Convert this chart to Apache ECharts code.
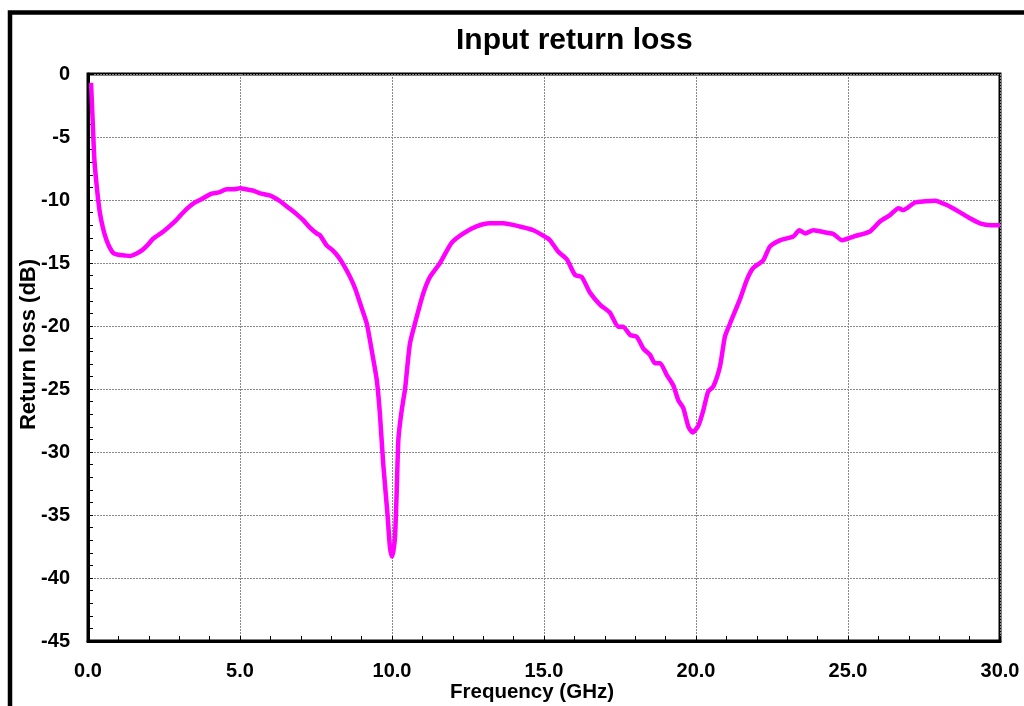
<!DOCTYPE html>
<html>
<head>
<meta charset="utf-8">
<script src="https://cdn.jsdelivr.net/npm/echarts@6/dist/echarts.min.js"></script>
<style>
html,body{margin:0;padding:0;background:#fff;}
#chart{width:1024px;height:706px;}
</style>
</head>
<body>
<div id="chart"></div>
<script>
var titleText = 'Input return loss';
var xAxisTitle = 'Frequency (GHz)';
var yAxisTitle = 'Return loss (dB)';
var xTicks = [0, 5, 10, 15, 20, 25, 30];
var yTicks = [0, -5, -10, -15, -20, -25, -30, -35, -40, -45];

var freqGHz = [0.1, 0.15, 0.21, 0.3, 0.39, 0.5, 0.61, 0.72, 0.83, 1.0, 1.2, 1.38, 1.6, 1.77, 1.95, 2.15, 2.48, 2.86, 3.05, 3.25, 3.45, 3.68, 4.07, 4.3, 4.56, 4.8, 5.0, 5.2, 5.44, 5.66, 6.0, 6.32, 6.64, 6.85, 7.08, 7.3, 7.52, 7.63, 7.85, 8.05, 8.23, 8.42, 8.62, 8.8, 8.95, 9.17, 9.33, 9.5, 9.6, 9.71, 9.85, 9.93, 10.0, 10.05, 10.1, 10.15, 10.21, 10.29, 10.37, 10.43, 10.59, 10.81, 11.03, 11.25, 11.58, 11.96, 12.35, 12.78, 13.22, 13.66, 14.2, 14.65, 15.09, 15.2, 15.47, 15.75, 16.02, 16.24, 16.51, 16.84, 17.17, 17.44, 17.6, 17.83, 18.05, 18.27, 18.49, 18.65, 18.82, 19.04, 19.25, 19.42, 19.58, 19.75, 19.89, 20.08, 20.24, 20.4, 20.57, 20.79, 20.95, 21.12, 21.45, 21.67, 21.88, 22.21, 22.43, 22.76, 23.2, 23.4, 23.59, 23.86, 24.3, 24.52, 24.81, 25.18, 25.72, 26.05, 26.38, 26.66, 26.82, 27.2, 27.53, 27.86, 28.25, 28.63, 29.01, 29.34, 29.7, 30.0];
var returnLossDb = [-0.7, -3.5, -6.8, -9.2, -11.0, -12.3, -13.2, -13.8, -14.2, -14.35, -14.4, -14.45, -14.25, -14.0, -13.6, -13.05, -12.5, -11.7, -11.2, -10.7, -10.3, -10.0, -9.5, -9.4, -9.15, -9.15, -9.07, -9.15, -9.26, -9.47, -9.65, -10.1, -10.7, -11.1, -11.6, -12.2, -12.65, -12.8, -13.6, -14.0, -14.5, -15.2, -16.1, -17.1, -18.2, -19.8, -21.9, -24.3, -26.9, -30.9, -34.9, -37.5, -38.3, -37.8, -36.7, -33.5, -29.0, -27.2, -25.9, -25.0, -21.4, -19.3, -17.4, -16.1, -15.0, -13.4, -12.65, -12.1, -11.85, -11.85, -12.1, -12.4, -13.0, -13.2, -14.1, -14.7, -15.95, -16.1, -17.35, -18.3, -18.95, -20.05, -20.05, -20.7, -20.85, -21.8, -22.3, -22.95, -22.95, -23.9, -24.7, -25.9, -26.5, -28.0, -28.45, -27.9, -26.7, -25.2, -24.8, -23.2, -20.85, -19.8, -17.85, -16.35, -15.4, -14.8, -13.7, -13.2, -12.9, -12.4, -12.65, -12.4, -12.6, -12.7, -13.2, -12.9, -12.5, -11.7, -11.2, -10.65, -10.8, -10.2, -10.1, -10.05, -10.4, -10.9, -11.45, -11.85, -12.0, -12.0];

var seriesData = freqGHz.map(function (f, i) { return [f, returnLossDb[i]]; });

var FONT = '"Liberation Sans", Arial, Helvetica, sans-serif';
var chart = echarts.init(document.getElementById('chart'), null, {renderer: 'canvas'});
chart.setOption({
  animation: false,
  backgroundColor: '#ffffff',
  title: {
    text: titleText,
    left: 451,
    top: 21,
    textStyle: {fontFamily: FONT, fontWeight: 'bold', fontSize: 30, color: '#000'}
  },
  graphic: [{
    type: 'rect',
    shape: {x: 10, y: 12.5, width: 1040, height: 720},
    style: {fill: 'none', stroke: '#000', lineWidth: 4.5},
    silent: true,
    z: 100
  }],
  grid: {
    left: 88, top: 74, width: 912, height: 567,
    containLabel: false, outerBoundsMode: 'none',
    show: true, borderColor: '#000', borderWidth: 3, backgroundColor: 'transparent'
  },
  xAxis: {
    type: 'value', min: xTicks[0], max: xTicks[xTicks.length - 1], interval: 5,
    name: xAxisTitle, nameLocation: 'middle', nameGap: 41, nameMoveOverlap: false,
    nameTextStyle: {fontFamily: FONT, fontWeight: 'bold', fontSize: 20.5, color: '#000', padding: [0, 24, 0, 0]},
    axisLine: {show: true, onZero: false, lineStyle: {color: '#000', width: 3}},
    axisTick: {show: true, inside: true, length: 5, lineStyle: {color: '#000', width: 1}},
    minorTick: {show: true, splitNumber: 5, length: 5, lineStyle: {color: '#000', width: 1}},
    axisLabel: {margin: 20, fontFamily: FONT, fontWeight: 'bold', fontSize: 20, color: '#000',
      formatter: function (v) { return v.toFixed(1); }},
    splitLine: {show: true, lineStyle: {color: '#888', width: 1, type: [2, 1]}}
  },
  yAxis: {
    type: 'value', min: yTicks[yTicks.length - 1], max: yTicks[0], interval: 5,
    name: yAxisTitle, nameLocation: 'middle', nameGap: 48, nameRotate: 90, nameMoveOverlap: false,
    nameTextStyle: {fontFamily: FONT, fontWeight: 'bold', fontSize: 22, color: '#000', padding: [0, 0, 0, 26]},
    axisLine: {show: true, onZero: false, lineStyle: {color: '#000', width: 3}},
    axisTick: {show: true, inside: true, length: 5, lineStyle: {color: '#000', width: 1}},
    minorTick: {show: true, splitNumber: 5, length: 5, lineStyle: {color: '#000', width: 1}},
    axisLabel: {margin: 18, fontFamily: FONT, fontWeight: 'bold', fontSize: 20, color: '#000',
      verticalAlign: 'middle', lineHeight: 20, padding: [6, 0, 0, 0]},
    splitLine: {show: true, lineStyle: {color: '#888', width: 1, type: [2, 1]}}
  },
  series: [{
    type: 'line',
    data: seriesData,
    showSymbol: false,
    smooth: 0.2,
    lineStyle: {color: '#ff00ff', width: 4.5},
    itemStyle: {color: '#ff00ff'},
    z: 5
  }]
});
</script>
</body>
</html>
